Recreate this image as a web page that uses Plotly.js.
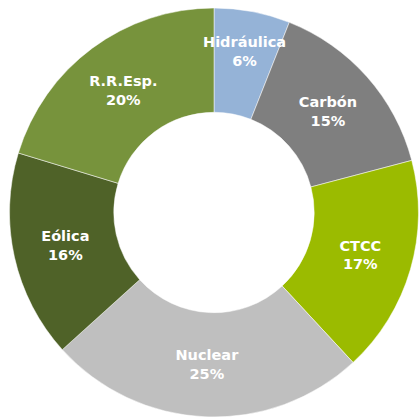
<!DOCTYPE html>
<html><head><meta charset="utf-8">
<script src="https://cdn.plot.ly/plotly-3.0.1.min.js"></script>
<style>html,body{margin:0;padding:0;background:#fff}#c{width:420px;height:417px}</style>
</head><body><div id="c"></div>
<script>
const categories = ['Hidráulica','Carbón','CTCC','Nuclear','Eólica','R.R.Esp.'];
const values = [6.0, 14.9, 17.2, 25.2, 16.4, 20.3];
const colors = ['#95b3d7','#7f7f7f','#9bbb00','#bfbfbf','#4f6228','#77933c'];

const W = 420, H = 417, M = {l:8, r:0, t:8, b:0};
const hole = 0.49;
const total = values.reduce((a,b)=>a+b,0);
// The small first slice keeps its full-size label (as in the reference), so it is drawn as an annotation
const pw = W - M.l - M.r, ph = H - M.t - M.b, R = Math.min(pw, ph)/2;
const frac = (values[0]/2)/total, th = 2*Math.PI*frac, rr = R*0.8;
const annX = 0.5 + rr*Math.sin(th)/pw, annY = 0.5 + rr*Math.cos(th)/ph;
const pct0 = Math.round(values[0]/total*100);
const FONT = {family:'DejaVu Sans', size:14.5, color:'#ffffff'};

Plotly.newPlot('c', [{
  type:'pie', labels:categories, values:values, hole:hole, sort:false,
  direction:'clockwise', rotation:0,
  marker:{colors:colors, line:{color:'#ffffff', width:0.5}},
  texttemplate:'<b>%{label}<br>%{percent:.0%}</b>',
  textposition:categories.map((c,i)=> i===0 ? 'none' : 'inside'),
  insidetextorientation:'horizontal',
  textfont:FONT,
  hoverinfo:'none'
}], {
  width:W, height:H, showlegend:false,
  margin:M, paper_bgcolor:'#fff',
  annotations:[{
    xref:'paper', yref:'paper', x:annX, y:annY, xanchor:'center', yanchor:'middle',
    showarrow:false,
    text:'<b>'+categories[0]+'<br>'+pct0+'%</b>',
    font:FONT
  }]
}, {displayModeBar:false, staticPlot:true});
</script></body></html>
